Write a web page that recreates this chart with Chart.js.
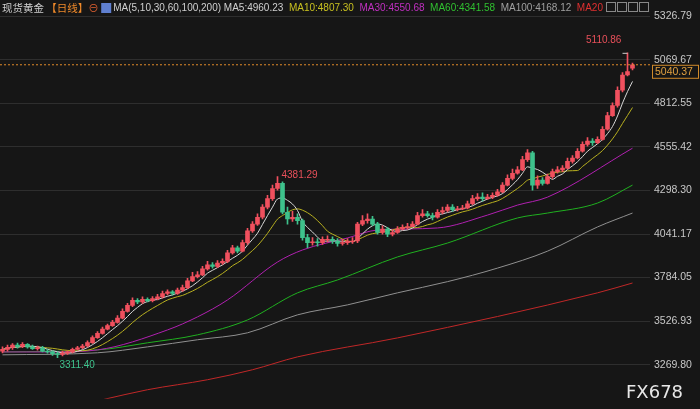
<!DOCTYPE html>
<html><head><meta charset="utf-8">
<script src="https://cdn.jsdelivr.net/npm/chart.js@4.4.1/dist/chart.umd.min.js"></script>
<style>html,body{margin:0;padding:0;background:#161616;}#w{width:700px;height:409px;position:relative;}</style>
</head><body><div id="w"><canvas id="c"></canvas></div>
<script>
const closes=[3360,3372,3385,3378,3390,3375,3365,3370,3350,3345,3335,3330,3338,3345,3360,3370,3380,3400,3430,3455,3480,3500,3520,3545,3585,3620,3650,3640,3655,3648,3660,3670,3690,3700,3690,3710,3725,3765,3790,3800,3835,3860,3850,3870,3880,3930,3960,3940,3990,4060,4100,4140,4200,4250,4310,4340,4170,4130,4140,4120,4020,3990,3995,3990,4010,4010,4000,3985,3990,4000,4000,4100,4120,4130,4100,4050,4070,4040,4050,4070,4080,4085,4100,4150,4160,4150,4140,4170,4180,4200,4185,4190,4195,4220,4250,4260,4250,4260,4270,4290,4330,4370,4400,4420,4480,4520,4330,4360,4340,4380,4410,4420,4430,4470,4490,4530,4570,4590,4580,4600,4660,4740,4800,4890,4980,5000,5040];
const opens=[3350,3360,3372,3385,3378,3390,3375,3365,3370,3350,3345,3335,3330,3338,3345,3360,3370,3380,3400,3430,3455,3480,3500,3520,3545,3585,3620,3650,3640,3655,3648,3660,3670,3690,3700,3690,3710,3725,3765,3790,3800,3835,3860,3850,3870,3880,3930,3960,3940,3990,4060,4100,4140,4200,4250,4310,4340,4170,4130,4140,4120,4020,3990,3995,3990,4010,4010,4000,3985,3990,4000,4000,4100,4120,4130,4100,4050,4070,4040,4050,4070,4080,4085,4100,4150,4160,4150,4140,4170,4180,4200,4185,4190,4195,4220,4250,4260,4250,4260,4270,4290,4330,4370,4400,4420,4480,4520,4330,4360,4340,4380,4410,4420,4430,4470,4490,4530,4570,4590,4580,4600,4660,4740,4800,4890,4980,5020];
const highs=[3375,3385,3395,3398,3400,3395,3385,3380,3378,3360,3352,3345,3350,3352,3368,3378,3390,3410,3440,3465,3492,3510,3532,3560,3600,3632,3665,3660,3670,3665,3672,3685,3705,3712,3708,3722,3740,3780,3815,3820,3850,3880,3872,3885,3895,3945,3975,3970,4005,4075,4115,4160,4215,4270,4330,4381,4350,4200,4175,4160,4130,4040,4020,4015,4025,4030,4025,4015,4010,4015,4020,4110,4150,4160,4145,4110,4090,4080,4065,4085,4095,4105,4115,4170,4185,4175,4165,4185,4200,4215,4215,4205,4210,4235,4270,4280,4285,4275,4285,4305,4345,4390,4425,4440,4500,4540,4530,4385,4375,4395,4425,4440,4445,4490,4505,4545,4585,4610,4605,4615,4675,4760,4815,4910,4995,5111,5050];
const lows=[3340,3350,3360,3368,3370,3368,3360,3355,3345,3338,3325,3311,3322,3330,3340,3355,3365,3375,3395,3425,3450,3475,3495,3515,3540,3580,3612,3630,3632,3640,3640,3652,3662,3682,3680,3685,3702,3718,3760,3782,3795,3828,3840,3842,3862,3872,3922,3930,3935,3980,4050,4092,4130,4190,4240,4300,4160,4100,4115,4100,4005,3960,3975,3970,3980,3995,3985,3970,3975,3980,3985,3990,4090,4105,4090,4040,4040,4025,4030,4045,4065,4070,4090,4095,4140,4140,4125,4135,4160,4172,4175,4178,4185,4190,4215,4240,4235,4245,4250,4265,4285,4325,4360,4395,4415,4470,4300,4310,4330,4335,4370,4400,4410,4425,4460,4485,4525,4560,4565,4575,4595,4655,4735,4790,4880,4975,5010];
const ma30Pts={0:3345,10:3345,19:3357,33:3475,39:3552,45:3652,55:3876,60:3947,69:4018,75:4065,87:4077,97:4153,103:4212,109:4259,126:4548};
const ma60Pts={0:3345,19:3357,29:3399,39:3446,49:3534,59:3694,67:3770,79:3906,89:3988,103:4136,109:4165,119:4224,126:4330};
const ma100Pts={0:3328,19:3340,29:3375,39:3417,49:3458,59:3564,69:3623,79:3694,89:3760,99:3840,109:3940,119:4083,126:4165};
const ma200Pts={12:3010,20:3063,29:3122,41:3181,50:3240,59:3316,79:3428,119:3694,126:3752};
const yTicks=[3269.80,3526.93,3784.05,4041.17,4298.30,4555.42,4812.55,5069.67,5326.79];
const N=130;
const labels=Array.from({length:N},(_,i)=>i);
function sparse(p){const a=new Array(N).fill(null);for(const k in p)a[+k]=p[k];return a;}
function ma(n){return closes.map((_,i)=>{const s=closes.slice(Math.max(0,i-n+1),i+1);return s.reduce((a,b)=>a+b,0)/s.length;});}
const up=closes.map((c,i)=>c>=opens[i]);
const RED='#f0505e',GRN='#3ec28c';
const col=up.map(u=>u?RED:GRN);
const lineDs=(d,c)=>({type:'line',data:d,borderColor:c,borderWidth:1,pointRadius:0,spanGaps:true,cubicInterpolationMode:'monotone',order:5});
const ann={id:'ann',afterDraw(ch){
 const c=ch.ctx,x=ch.scales.x,y=ch.scales.y,a=ch.chartArea;
 c.save();
 const py=y.getPixelForValue(5040.37);
 c.strokeStyle='#e08a2a';c.setLineDash([2,2]);c.lineWidth=1;
 c.beginPath();c.moveTo(0,py);c.lineTo(a.right,py);c.stroke();c.setLineDash([]);
 c.fillStyle='#161616';c.fillRect(652,py,46,13);c.strokeStyle='#d08a2a';c.strokeRect(652.5,py+0.5,46,13);
 c.fillStyle='#e0a040';c.font='10.5px "Liberation Sans",Arial';c.textBaseline='middle';c.fillText('5040.37',655,py+7);
 c.font='10px "Liberation Sans",Arial';
 c.fillStyle='#e8505a';c.fillText('4381.29',x.getPixelForValue(55)+4,y.getPixelForValue(4381)-1);
 c.fillStyle='#e8505a';c.fillText('5110.86',586,y.getPixelForValue(5111)-13);
 c.strokeStyle='#ccc';c.beginPath();const hx=x.getPixelForValue(125),hy=y.getPixelForValue(5111);c.moveTo(hx-5,hy+0.5);c.lineTo(hx,hy+0.5);c.stroke();
 c.fillStyle='#3ec28c';c.fillText('3311.40',x.getPixelForValue(11)+2,y.getPixelForValue(3311)+8);
 c.font='10.5px "Noto Sans CJK SC",sans-serif';c.textBaseline='middle';
 let tx=2;const parts=[['现货黄金 ','#d0d0d0'],['【日线】','#f08a2a'],['⊖ ','#e06030']];
 for(const [t,cl] of parts){c.fillStyle=cl;c.fillText(t,tx,8);tx+=c.measureText(t).width;}
 c.fillStyle='#6080d0';c.fillRect(tx,3,10,10);tx+=12;
 c.font='10px "Liberation Sans",Arial';
 const p2=[['MA(5,10,30,60,100,200) MA5:4960.23  ','#d0d0d0'],['MA10:4807.30  ','#c8c020'],['MA30:4550.68  ','#c030c0'],['MA60:4341.58  ','#30c030'],['MA100:4168.12  ','#a0a0a0'],['MA20','#e03030']];
 for(const [t,cl] of p2){c.fillStyle=cl;c.fillText(t,tx,8);tx+=c.measureText(t).width;}
 c.strokeStyle='#888';for(let i=0;i<4;i++){c.strokeRect(606.5+i*11,2.5,9,9);}
 c.fillStyle='#e8e8e8';c.font='18px "DejaVu Sans",sans-serif';c.textBaseline='alphabetic';c.fillText('FX678',626,398);
 c.restore();}};
new Chart(document.getElementById('c'),{
 data:{labels,datasets:[
  {type:'bar',data:closes.map((c,i)=>[lows[i],highs[i]]),backgroundColor:col,barThickness:1,grouped:false,order:2},
  {type:'bar',data:closes.map((c,i)=>{let o=opens[i];if(Math.abs(o-c)<4)o=c-4;return [o,c];}),backgroundColor:col,barThickness:4,grouped:false,order:1},
  lineDs(ma(5),'#d8d8d8'),lineDs(ma(10),'#b8b020'),
  lineDs(sparse(ma30Pts),'#b020b0'),lineDs(sparse(ma60Pts),'#20b020'),
  lineDs(sparse(ma100Pts),'#909090'),lineDs(sparse(ma200Pts),'#c02828')]},
 options:{responsive:true,maintainAspectRatio:false,animation:false,
  layout:{padding:0},
  plugins:{legend:{display:false},tooltip:{enabled:false}},
  scales:{
   x:{display:false,offset:true},
   y:{position:'right',min:3069,max:5362,
    afterBuildTicks:s=>{s.ticks=yTicks.map(v=>({value:v}));},
    afterFit:s=>{s.width=50;},
    ticks:{color:'#c8c8c8',font:{size:10.5,family:'Liberation Sans'},padding:4,callback:v=>v.toFixed(2)},
    grid:{color:'#2e2e2e',drawTicks:false},border:{display:false}}}},
 plugins:[ann]});
</script></body></html>
